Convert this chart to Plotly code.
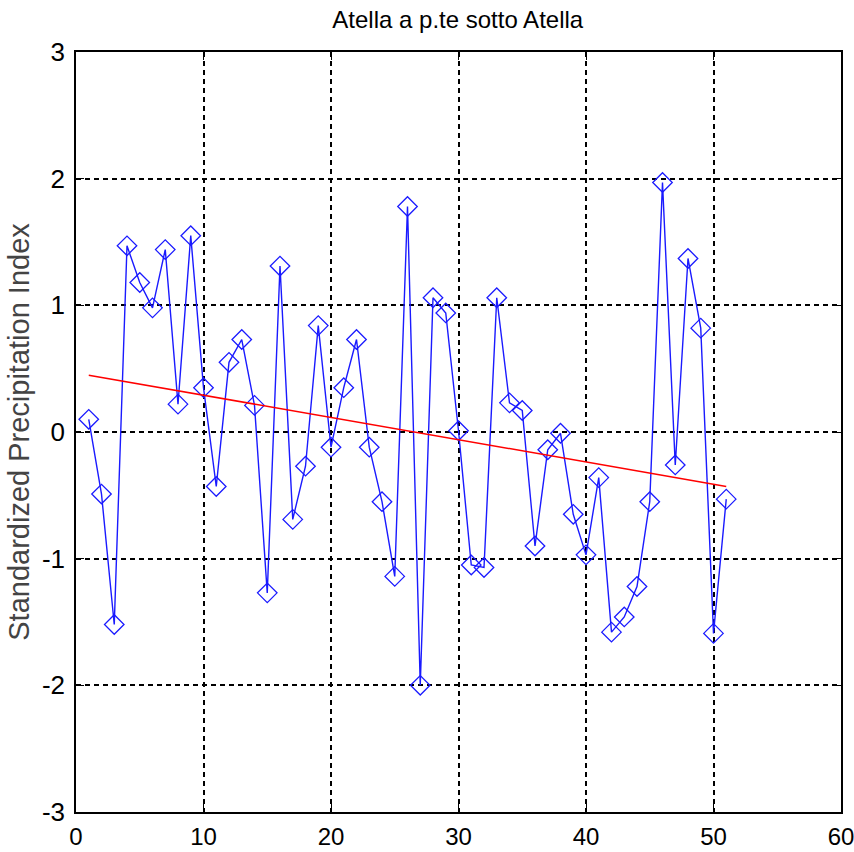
import numpy as np
import plotly.graph_objects as go

years = list(range(1, 52))
spi = [0.10, -0.49, -1.52, 1.47, 1.18, 0.98, 1.44, 0.22, 1.55, 0.35,
       -0.43, 0.55, 0.73, 0.21, -1.27, 1.31, -0.69, -0.27, 0.84, -0.12,
       0.35, 0.73, -0.12, -0.55, -1.14, 1.78, -2.00, 1.06, 0.94, 0.01,
       -1.05, -1.07, 1.06, 0.23, 0.17, -0.90, -0.14, -0.01, -0.65, -0.97,
       -0.36, -1.58, -1.46, -1.22, -0.55, 1.97, -0.26, 1.37, 0.82, -1.59,
       -0.53]
x_ticks = [0, 10, 20, 30, 40, 50, 60]
y_ticks = [-3, -2, -1, 0, 1, 2, 3]
y_tick_labels = ["-3", "-2", "-1", "0", "1", "2", "3"]

slope, intercept = np.polyfit(years, spi, 1)
trend_x = [years[0], years[-1]]
trend_y = [intercept + slope * v for v in trend_x]

fig = go.Figure()
fig.add_trace(go.Scatter(
    x=years, y=spi, mode="lines+markers",
    line=dict(color="#1a1aff", width=1.4),
    marker=dict(symbol="diamond-open", size=15, color="#1a1aff", line=dict(width=1.3)),
    showlegend=False, cliponaxis=False))
fig.add_trace(go.Scatter(
    x=trend_x, y=trend_y, mode="lines",
    line=dict(color="#ff0000", width=1.5), showlegend=False))

axis_common = dict(
    showline=True, linecolor="black", linewidth=1.5, mirror="ticks",
    ticks="inside", ticklen=8, tickcolor="black", tickwidth=1.2,
    showgrid=True, gridcolor="black", griddash="5px,4px", gridwidth=1.5,
    zeroline=False, automargin=False,
)

fig.update_xaxes(range=[0, 60], tickvals=x_ticks, ticklabelstandoff=2,
                 ticklabeloverflow="allow",
                 tickfont=dict(family="Liberation Sans Narrow, Arial Narrow, Arial", size=24, color="black"),
                 **axis_common)
fig.update_yaxes(range=[-3, 3], tickvals=y_ticks, ticktext=y_tick_labels,
                 ticklabelstandoff=4,
                 tickfont=dict(family="Liberation Sans Narrow, Arial Narrow, Arial", size=26, color="black"),
                 title=dict(text="Standardized Precipitation Index",
                            font=dict(family="Liberation Sans, Arial", size=29, color="#444444"),
                            standoff=4),
                 **axis_common)

fig.update_layout(
    width=854, height=852,
    margin=dict(l=76, r=13, t=52, b=40),
    paper_bgcolor="white", plot_bgcolor="white",
    title=dict(text="Atella a p.te sotto Atella", x=0.536, xanchor="center",
               y=0.977, yanchor="middle",
               font=dict(family="Liberation Sans Narrow, Arial Narrow, Arial", size=24, color="black")),
)

fig.write_html("out.html")
